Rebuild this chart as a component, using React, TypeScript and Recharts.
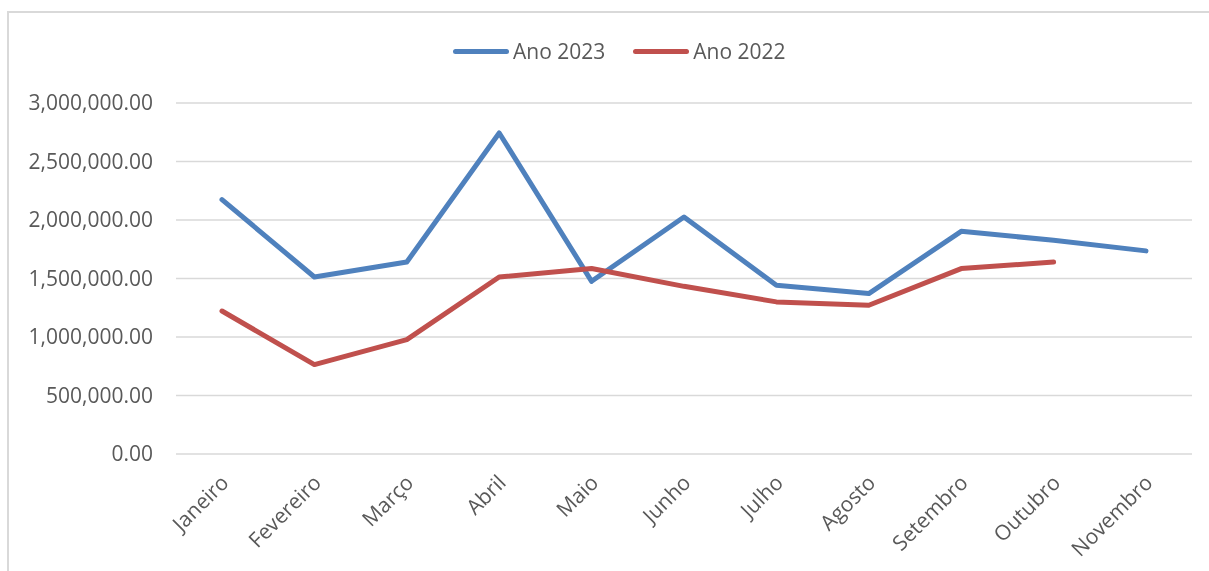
import React from "react";
import { LineChart, Line, XAxis, YAxis, CartesianGrid, Legend } from "recharts";

const months = ["Janeiro", "Fevereiro", "Março", "Abril", "Maio", "Junho", "Julho", "Agosto", "Setembro", "Outubro", "Novembro"];
const ano2023 = [2174000, 1513000, 1641000, 2744000, 1476000, 2026000, 1442000, 1371000, 1903000, 1827000, 1736000];
const ano2022: (number | null)[] = [1222000, 764000, 978000, 1513000, 1585000, 1433000, 1300000, 1271000, 1585000, 1641000, null];
const yTicks = [0, 500000, 1000000, 1500000, 2000000, 2500000, 3000000];

const data = months.map((m, i) => ({ month: m, a2023: ano2023[i], a2022: ano2022[i] }));

const FONT = "'Open Sans', sans-serif";
const TEXT = "#595959";
const BLUE = "#4F81BD";
const RED = "#C0504D";

const fmt = (v: number) =>
  v.toLocaleString("en-US", { minimumFractionDigits: 2, maximumFractionDigits: 2 });

const XTick = (props: any) => {
  const { x, y, payload } = props;
  const ax = x + 8;
  const ay = y + 22;
  return (
    <text
      x={ax}
      y={ay}
      transform={`rotate(-45, ${ax}, ${ay})`}
      textAnchor="end"
      fill={TEXT}
      fontSize={21}
      fontFamily={FONT}
    >
      {payload.value}
    </text>
  );
};

const LegendContent = () => {
  const items = [
    { label: "Ano 2023", color: BLUE },
    { label: "Ano 2022", color: RED },
  ];
  return (
    <div style={{ display: "flex", alignItems: "center", fontFamily: FONT, fontSize: 21, color: TEXT }}>
      {items.map((it, i) => (
        <div key={it.label} style={{ display: "flex", alignItems: "center", marginLeft: i === 0 ? 0 : 28 }}>
          <div style={{ width: 56, height: 5, borderRadius: 3, background: it.color, marginRight: 4 }} />
          <span style={{ lineHeight: "28px" }}>{it.label}</span>
        </div>
      ))}
    </div>
  );
};

export default function App() {
  return (
    <div>
      <div
        style={{
          position: "fixed",
          left: 7,
          top: 11,
          width: 1400,
          height: 800,
          border: "2px solid #d9d9d9",
          boxSizing: "border-box",
        }}
      />
      <div style={{ position: "fixed", left: 0, top: 0 }}>
        <LineChart width={1209} height={571} data={data} margin={{ top: 103, right: 17, bottom: 17, left: 0 }}>
          <CartesianGrid vertical={false} stroke="#d9d9d9" strokeWidth={1.5} />
          <XAxis
            dataKey="month"
            axisLine={false}
            tickLine={false}
            height={100}
            interval={0}
            padding={{ left: 46, right: 46 }}
            tick={<XTick />}
          />
          <YAxis
            domain={[0, 3000000]}
            ticks={yTicks}
            width={176}
            axisLine={false}
            tickLine={false}
            tickSize={0}
            tickMargin={23}
            tickFormatter={fmt}
            tick={{ fill: TEXT, fontSize: 21, fontFamily: FONT }}
          />
          <Legend
            layout="horizontal"
            verticalAlign="middle"
            align="center"
            content={<LegendContent />}
            wrapperStyle={{ position: "absolute", top: 37, left: 453, width: "auto", height: 28 }}
          />
          <Line
            type="linear"
            dataKey="a2023"
            name="Ano 2023"
            stroke={BLUE}
            strokeWidth={5}
            strokeLinecap="round"
            strokeLinejoin="round"
            dot={false}
            activeDot={false}
            isAnimationActive={false}
          />
          <Line
            type="linear"
            dataKey="a2022"
            name="Ano 2022"
            stroke={RED}
            strokeWidth={5}
            strokeLinecap="round"
            strokeLinejoin="round"
            dot={false}
            activeDot={false}
            isAnimationActive={false}
          />
        </LineChart>
      </div>
    </div>
  );
}
